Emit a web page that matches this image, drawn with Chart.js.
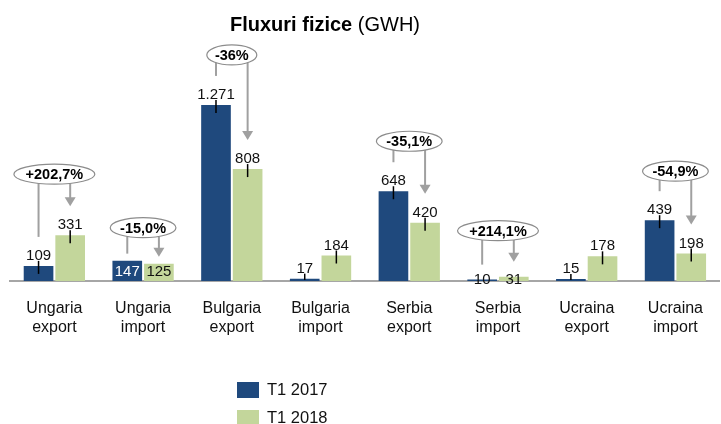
<!DOCTYPE html>
<html>
<head>
<meta charset="utf-8">
<script src="https://cdn.jsdelivr.net/npm/chart.js@4.4.0/dist/chart.umd.min.js"></script>
<style>
  html, body { margin:0; padding:0; background:#fff; overflow:hidden; }
  #wrap { width:721px; height:424px; position:relative; }
</style>
</head>
<body>
<div id="wrap"><canvas id="flux"></canvas></div>
<script>
const categories = [
  ['Ungaria', 'export'], ['Ungaria', 'import'],
  ['Bulgaria', 'export'], ['Bulgaria', 'import'],
  ['Serbia', 'export'], ['Serbia', 'import'],
  ['Ucraina', 'export'], ['Ucraina', 'import']
];
const seriesNames = ['T1 2017', 'T1 2018'];
const t2017 = [109, 147, 1271, 17, 648, 10, 15, 439];
const t2018 = [331, 125, 808, 184, 420, 31, 178, 198];
const changes = ['+202,7%', '-15,0%', '-36%', null, '-35,1%', '+214,1%', null, '-54,9%'];

// label placement / how far the change bubble sits above the arrows (style only)
const labelMode = ['above', 'inside', 'above', 'above', 'above', 'base', 'above', 'above'];
const annoLift = [32, 26, 21, 0, 21, 31, 0, 20];

const BLUE = '#1f497d';
const GREEN = '#c3d69b';
const GREY = '#a0a0a0';
const FONT = '"Liberation Sans", Arial, sans-serif';

const fmt = (n)=> String(n).replace(/\B(?=(\d{3})+(?!\d))/g, '.');

const endOffset = { above: 29, inside: 7, base: 15 };

const titlePlugin = {
  id: 'titleMix',
  afterDraw(chart){
    const c = chart.ctx;
    c.save();
    c.fillStyle = '#000';
    c.textBaseline = 'alphabetic';
    c.textAlign = 'left';
    c.font = 'bold 20px ' + FONT;
    const a = 'Fluxuri fizice';
    c.fillText(a, 230, 31);
    const w = c.measureText(a).width;
    c.font = '20px ' + FONT;
    c.fillText(' (GWH)', 230 + w, 31);
    c.restore();
  }
};

const valueLabels = {
  id: 'valueLabels',
  afterDatasetsDraw(chart){
    const c = chart.ctx;
    c.save();
    c.font = '15px ' + FONT;
    c.textAlign = 'center';
    chart.data.datasets.forEach((ds, di)=>{
      const meta = chart.getDatasetMeta(di);
      meta.data.forEach((bar, i)=>{
        const mode = labelMode[i];
        const txt = fmt(ds.data[i]);
        if (mode === 'above'){
          c.strokeStyle = '#000';
          c.lineWidth = 1.5;
          c.beginPath();
          c.moveTo(bar.x, bar.y - 5);
          c.lineTo(bar.x, Math.min(bar.y + 8, bar.base - 1));
          c.stroke();
          c.fillStyle = '#111';
          c.textBaseline = 'alphabetic';
          c.fillText(txt, bar.x, bar.y - 6);
        } else if (mode === 'inside'){
          c.fillStyle = di === 0 ? '#fff' : '#111';
          c.textBaseline = 'middle';
          c.fillText(txt, bar.x, bar.base - 9);
        } else {
          c.fillStyle = '#111';
          c.textBaseline = 'middle';
          c.fillText(txt, bar.x, bar.base - 1);
        }
      });
    });
    c.restore();
  }
};

const changeNotes = {
  id: 'changeNotes',
  afterDatasetsDraw(chart){
    const c = chart.ctx;
    const m0 = chart.getDatasetMeta(0).data;
    const m1 = chart.getDatasetMeta(1).data;
    const xs = chart.scales.x;
    c.save();
    changes.forEach((txt, i)=>{
      if (!txt) return;
      const b0 = m0[i], b1 = m1[i];
      const off = endOffset[labelMode[i]];
      const end0 = b0.y - off, end1 = b1.y - off;
      const cx = xs.getPixelForValue(i);
      c.font = 'bold 14.5px ' + FONT;
      const tw = c.measureText(txt).width;
      const rx = (tw * 1.3 + 6) / 2, ry = 10;
      const cy = Math.min(end0, end1) - annoLift[i];
      const edgeY = (x)=>{
        const d = (x - cx) / rx;
        return cy + ry * Math.sqrt(Math.max(0, 1 - d * d));
      };
      c.strokeStyle = GREY;
      c.fillStyle = GREY;
      c.lineWidth = 2;
      c.beginPath();
      c.moveTo(b0.x, edgeY(b0.x));
      c.lineTo(b0.x, end0);
      c.stroke();
      c.beginPath();
      c.moveTo(b1.x, edgeY(b1.x));
      c.lineTo(b1.x, end1 - 8);
      c.stroke();
      c.beginPath();
      c.moveTo(b1.x - 5.5, end1 - 9);
      c.lineTo(b1.x + 5.5, end1 - 9);
      c.lineTo(b1.x, end1);
      c.closePath();
      c.fill();
      c.beginPath();
      c.ellipse(cx, cy, rx, ry, 0, 0, Math.PI * 2);
      c.fillStyle = '#fff';
      c.fill();
      c.lineWidth = 1.2;
      c.strokeStyle = '#8c8c8c';
      c.stroke();
      c.fillStyle = '#000';
      c.textAlign = 'center';
      c.textBaseline = 'middle';
      c.fillText(txt, cx, cy + 1);
    });
    c.restore();
  }
};

const legendBoxes = {
  id: 'legendBoxes',
  afterDraw(chart){
    const c = chart.ctx;
    c.save();
    c.font = '16.5px ' + FONT;
    c.textBaseline = 'middle';
    c.textAlign = 'left';
    chart.data.datasets.forEach((ds, di)=>{
      const y = 382 + di * 28;
      c.fillStyle = ds.backgroundColor;
      c.fillRect(237, y, 22, 16);
      c.fillStyle = '#111';
      c.fillText(ds.label, 267, y + 8.5);
    });
    c.restore();
  }
};

new Chart(document.getElementById('flux'), {
  type: 'bar',
  data: {
    labels: categories,
    datasets: [
      { label: seriesNames[0], data: t2017, backgroundColor: BLUE },
      { label: seriesNames[1], data: t2018, backgroundColor: GREEN }
    ]
  },
  options: {
    responsive: true,
    maintainAspectRatio: false,
    animation: false,
    categoryPercentage: 0.713,
    barPercentage: 0.9375,
    layout: { padding: { top: 45.5, left: 10, right: -7, bottom: 68.6 } },
    plugins: {
      legend: { display: false },
      title: { display: false },
      tooltip: { enabled: false }
    },
    scales: {
      y: { display: false, min: 0, max: 1700 },
      x: {
        grid: { display: false, drawTicks: false },
        border: { display: true, color: '#a6a6a6', width: 2 },
        ticks: {
          color: '#111',
          padding: 18,
          font: { family: FONT, size: 16, lineHeight: 1.2 }
        }
      }
    }
  },
  plugins: [titlePlugin, valueLabels, changeNotes, legendBoxes]
});
</script>
</body>
</html>
